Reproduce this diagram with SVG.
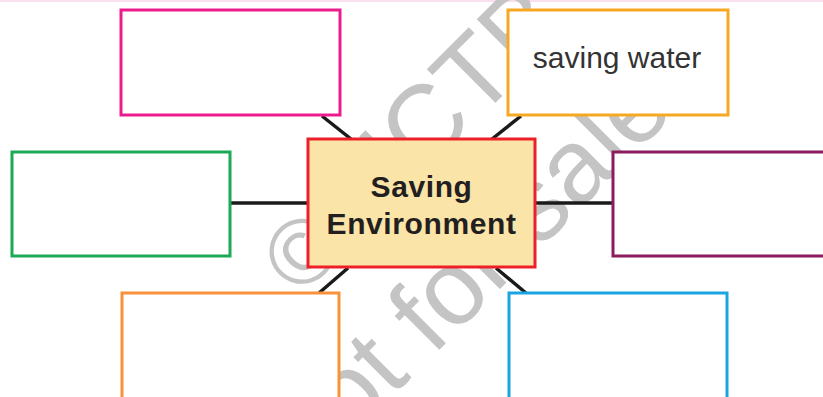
<svg xmlns="http://www.w3.org/2000/svg" width="823" height="397" viewBox="0 0 823 397">
  <style>
    .box { fill: #ffffff; stroke-width: 3; }
    .conn { stroke: #1a1a1a; stroke-width: 3.5; stroke-linecap: butt; fill: none; }
    .wm { font-family: "Liberation Sans", Arial, sans-serif; font-size: 105px; fill: #c4c4c4; }
    .center-text { font-family: "Liberation Sans", Arial, sans-serif; font-size: 30px; font-weight: bold; fill: #231f20; text-anchor: middle; letter-spacing: 0.6px; }
    .label { font-family: "Liberation Sans", Arial, sans-serif; font-size: 30px; fill: #333333; text-anchor: middle; }
  </style>
  <rect x="0" y="0" width="823" height="397" fill="#ffffff"/>
  <line x1="0" y1="1" x2="823" y2="1" stroke="#f9d6ea" stroke-width="1.5"/>

  <g id="watermark" transform="rotate(-45)">
    <text class="wm" x="2" y="423"><tspan font-size="92">©</tspan> NCTB</text>
    <text class="wm" x="-121" y="558">not for sale</text>
  </g>

  <g id="connectors">
    <line class="conn" x1="230" y1="203" x2="308" y2="203"/>
    <line class="conn" x1="535" y1="203" x2="613" y2="203"/>
    <line class="conn" x1="322" y1="116" x2="351" y2="139"/>
    <line class="conn" x1="521" y1="116" x2="492" y2="139"/>
    <line class="conn" x1="348" y1="268" x2="319" y2="293"/>
    <line class="conn" x1="496" y1="268" x2="526" y2="293"/>
  </g>

  <g id="node-top-left">
    <rect class="box" x="121" y="10" width="219" height="105" stroke="#ec1c8f"/>
  </g>
  <g id="node-top-right">
    <rect class="box" x="508" y="10" width="220" height="105" stroke="#f7a823"/>
    <text class="label" x="617" y="68">saving water</text>
  </g>
  <g id="node-left">
    <rect class="box" x="12" y="152" width="218" height="104" stroke="#1ba956"/>
  </g>
  <g id="node-right">
    <rect class="box" x="613" y="152" width="215" height="104" stroke="#8c1d5c"/>
  </g>
  <g id="node-bottom-left">
    <rect class="box" x="122" y="293" width="217" height="110" stroke="#f7923a"/>
  </g>
  <g id="node-bottom-right">
    <rect class="box" x="509" y="293" width="218" height="110" stroke="#1ca3e2"/>
  </g>
  <g id="node-center">
    <rect x="308" y="139" width="227" height="128" fill="#fbe4a8" stroke="#ec2029" stroke-width="3"/>
    <text class="center-text" x="421.5" y="197">Saving</text>
    <text class="center-text" x="421.5" y="234">Environment</text>
  </g>
</svg>
